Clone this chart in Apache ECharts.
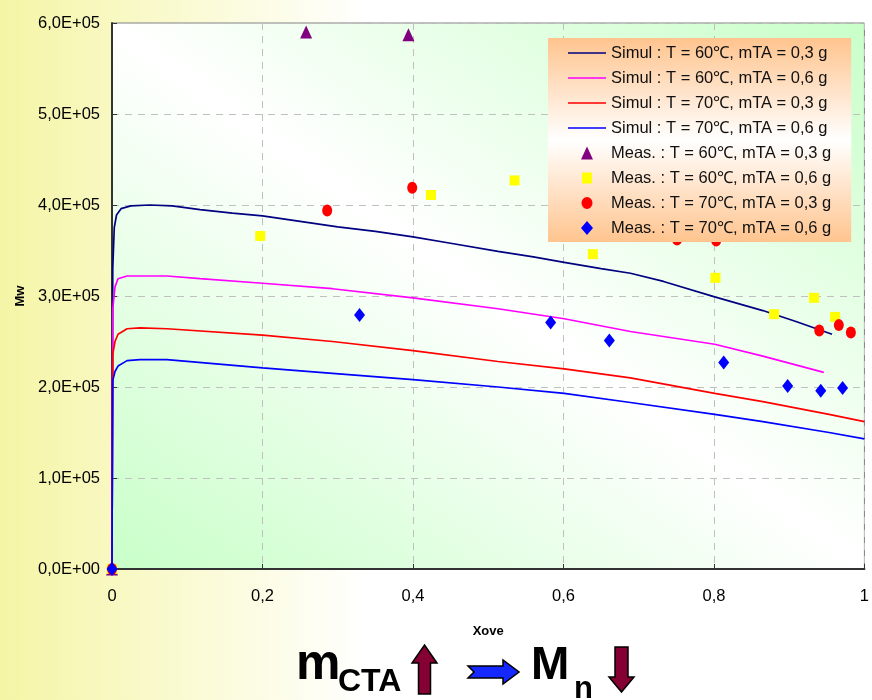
<!DOCTYPE html>
<html>
<head>
<meta charset="utf-8">
<script src="https://cdn.jsdelivr.net/npm/echarts@6/dist/echarts.min.js"></script>
<style>
html,body{margin:0;padding:0;background:#fff;}
#chart{width:872px;height:700px;}
</style>
</head>
<body>
<div id="chart"></div>
<script>
// ---- data ----
const xTickLabels = ['0', '0,2', '0,4', '0,6', '0,8', '1'];
const yTickLabels = ['0,0E+00', '1,0E+05', '2,0E+05', '3,0E+05', '4,0E+05', '5,0E+05', '6,0E+05'];

const seriesNames = [
  'Simul : T = 60\u2103, mTA = 0,3 g',
  'Simul : T = 60\u2103, mTA = 0,6 g',
  'Simul : T = 70\u2103, mTA = 0,3 g',
  'Simul : T = 70\u2103, mTA = 0,6 g',
  'Meas. : T = 60\u2103, mTA = 0,3 g',
  'Meas. : T = 60\u2103, mTA = 0,6 g',
  'Meas. : T = 70\u2103, mTA = 0,3 g',
  'Meas. : T = 70\u2103, mTA = 0,6 g'
];

const simul60_03 = [[0,0],[0.0005,1.35e5],[0.001,3.3e5],[0.003,3.75e5],[0.006,3.89e5],[0.012,3.96e5],[0.025,3.99e5],[0.05,4.0e5],[0.08,3.99e5],[0.117,3.95e5],[0.16,3.91e5],[0.2,3.88e5],[0.25,3.82e5],[0.3,3.76e5],[0.35,3.71e5],[0.4,3.65e5],[0.45,3.58e5],[0.513,3.49e5],[0.56,3.43e5],[0.601,3.37e5],[0.65,3.3e5],[0.689,3.25e5],[0.733,3.16e5],[0.801,2.99e5],[0.865,2.84e5],[0.909,2.72e5],[0.957,2.58e5]];
const simul60_06 = [[0,0],[0.0005,1.6e5],[0.001,2.86e5],[0.004,3.1e5],[0.008,3.19e5],[0.02,3.22e5],[0.073,3.22e5],[0.117,3.19e5],[0.2,3.14e5],[0.293,3.08e5],[0.4,2.98e5],[0.513,2.86e5],[0.601,2.75e5],[0.689,2.61e5],[0.801,2.47e5],[0.865,2.34e5],[0.946,2.16e5]];
const simul70_03 = [[0,0],[0.0005,1.4e5],[0.001,2.36e5],[0.004,2.5e5],[0.008,2.58e5],[0.02,2.64e5],[0.037,2.65e5],[0.073,2.64e5],[0.2,2.57e5],[0.293,2.50e5],[0.4,2.40e5],[0.513,2.28e5],[0.601,2.20e5],[0.689,2.10e5],[0.801,1.93e5],[0.865,1.84e5],[0.953,1.70e5],[1.0,1.62e5]];
const simul70_06 = [[0,0],[0.0005,1.3e5],[0.001,2.07e5],[0.004,2.17e5],[0.008,2.23e5],[0.02,2.29e5],[0.037,2.30e5],[0.073,2.30e5],[0.2,2.21e5],[0.293,2.15e5],[0.4,2.08e5],[0.513,2.0e5],[0.601,1.93e5],[0.689,1.83e5],[0.801,1.70e5],[0.865,1.62e5],[0.953,1.50e5],[1.0,1.43e5]];

const meas60_03 = [[0,0],[0.258,5.90e5],[0.394,5.87e5]];
const meas60_06 = [[0,0],[0.197,3.66e5],[0.424,4.11e5],[0.535,4.27e5],[0.639,3.46e5],[0.802,3.20e5],[0.880,2.80e5],[0.933,2.98e5],[0.961,2.77e5]];
const meas70_03 = [[0,0],[0.286,3.94e5],[0.399,4.19e5],[0.751,3.62e5],[0.803,3.61e5],[0.940,2.62e5],[0.966,2.68e5],[0.982,2.60e5]];
const meas70_06 = [[0,0],[0.329,2.79e5],[0.583,2.71e5],[0.661,2.51e5],[0.813,2.27e5],[0.898,2.01e5],[0.942,1.96e5],[0.971,1.99e5]];

// ---- chart ----
const FONT = '"Liberation Sans", Arial, sans-serif';
const chart = echarts.init(document.getElementById('chart'), null, {renderer: 'canvas'});

const lineColors = ['#000080', '#FF00FF', '#FF0000', '#0000FF'];
const simData = [simul60_03, simul60_06, simul70_03, simul70_06];
const measData = [meas60_03, meas60_06, meas70_03, meas70_06];
const measSymbols = ['triangle', 'rect', 'circle', 'diamond'];
const measSizes = [[12, 13], [10, 10], [10, 12], [11, 14]];
const measColors = ['#800080', '#FFFF00', '#FF0000', '#0000FF'];

// legend icons drawn inside a 38x14 box (corner anchors keep the box size)
const ANCH = 'M0,0 L0.001,0.001 M38,14 L37.999,13.999 ';
const legendIcons = [
  'path://' + ANCH + 'M0,6.2 L38,6.2 L38,7.8 L0,7.8 Z',
  'path://' + ANCH + 'M0,6.2 L38,6.2 L38,7.8 L0,7.8 Z',
  'path://' + ANCH + 'M0,6.2 L38,6.2 L38,7.8 L0,7.8 Z',
  'path://' + ANCH + 'M0,6.2 L38,6.2 L38,7.8 L0,7.8 Z',
  'path://' + ANCH + 'M13,13.5 L19,0.5 L25,13.5 Z',
  'path://' + ANCH + 'M14,1.5 L24,1.5 L24,12.5 L14,12.5 Z',
  'path://' + ANCH + 'M19,1 A5.5,6 0 1,1 19,13 A5.5,6 0 1,1 19,1 Z',
  'path://' + ANCH + 'M19,0 L25,7 L19,14 L13,7 Z'
];

const series = [];
simData.forEach((d, i) => {
  series.push({
    name: seriesNames[i], type: 'line', data: d, symbol: 'none', smooth: false,
    lineStyle: {color: lineColors[i], width: 1.7}, itemStyle: {color: lineColors[i]},
    z: 2, animation: false
  });
});
measData.forEach((d, i) => {
  series.push({
    name: seriesNames[4 + i], type: 'scatter', data: d, symbol: measSymbols[i],
    symbolSize: measSizes[i], itemStyle: {color: measColors[i], opacity: 1},
    z: 3, animation: false
  });
});

const option = {
  animation: false,
  backgroundColor: {
    type: 'linear', x: 0, y: 0, x2: 1, y2: 0,
    colorStops: [{offset: 0, color: '#F5F5A6'}, {offset: 0.42, color: '#FFFFFF'}, {offset: 1, color: '#FFFFFF'}]
  },
  grid: {
    left: 112, top: 23, width: 758, height: 546, show: true,
    borderColor: '#808080', borderWidth: 1,
    backgroundColor: {
      // diagonal gradient whose iso-lines run parallel to the top-left/bottom-right diagonal
      type: 'linear', x: 0, y: 1, x2: 0.683, y2: -0.317,
      colorStops: [{offset: 0, color: '#C8FFC8'}, {offset: 0.5, color: '#FFFFFF'}, {offset: 1, color: '#C8FFC8'}]
    }
  },
  xAxis: {
    type: 'value', min: 0, max: 1, interval: 0.2,
    name: 'Xove', nameLocation: 'middle', nameGap: 56,
    nameTextStyle: {fontFamily: FONT, fontWeight: 'bold', fontSize: 13, color: '#000'},
    axisLine: {show: true, onZero: false, lineStyle: {color: '#333', width: 2}},
    axisTick: {show: true, inside: true, length: 5, lineStyle: {color: '#333'}},
    axisLabel: {margin: 19, fontFamily: FONT, fontSize: 16.5, color: '#000',
      formatter: v => xTickLabels[Math.round(v / 0.2)]},
    splitLine: {show: true, lineStyle: {color: '#C0C0C0', type: [7, 6], width: 1}}
  },
  yAxis: {
    type: 'value', min: 0, max: 6e5, interval: 1e5,
    name: 'Mw', nameLocation: 'middle', nameGap: 77,
    nameTextStyle: {fontFamily: FONT, fontWeight: 'bold', fontSize: 13, color: '#000'},
    axisLine: {show: true, onZero: false, lineStyle: {color: '#333', width: 2}},
    axisTick: {show: true, inside: true, length: 5, lineStyle: {color: '#333'}},
    axisLabel: {margin: 12, fontFamily: FONT, fontSize: 16.5, color: '#000',
      formatter: v => yTickLabels[Math.round(v / 1e5)]},
    splitLine: {show: true, lineStyle: {color: '#C0C0C0', type: [7, 6], width: 1}}
  },
  legend: {
    orient: 'vertical', left: 548, top: 38,
    padding: [6, 20, 5, 20], itemGap: 7, itemWidth: 38, itemHeight: 14,
    data: seriesNames.map((n, i) => ({name: n, icon: legendIcons[i]})),
    backgroundColor: {
      type: 'linear', x: 0, y: 0, x2: 0, y2: 1,
      colorStops: [{offset: 0, color: '#FFC48E'}, {offset: 0.5, color: '#FFFFFF'}, {offset: 1, color: '#FFC48E'}]
    },
    textStyle: {fontFamily: FONT, fontSize: 16.5, color: '#111', lineHeight: 18},
    selectedMode: false, z: 10
  },
  graphic: [
    {type: 'text', z: 100, style: {text: 'm', x: 296, y: 665, font: 'bold 50px ' + FONT, fill: '#000', textVerticalAlign: 'middle', verticalAlign: 'middle'}},
    {type: 'text', z: 100, style: {text: 'CTA', x: 338, y: 682, font: 'bold 32px ' + FONT, fill: '#000', textVerticalAlign: 'middle', verticalAlign: 'middle'}},
    {type: 'polygon', z: 100, shape: {points: [[424.5, 645], [437, 663], [430.5, 663], [430.5, 694], [418.5, 694], [418.5, 663], [412, 663]]},
      style: {fill: '#850033', stroke: '#000', lineWidth: 1.5}},
    {type: 'polygon', z: 100, shape: {points: [[468, 666], [503, 666], [503, 660], [519, 672], [503, 684], [503, 678], [468, 678], [474, 672]]},
      style: {fill: '#1428FF', stroke: '#000', lineWidth: 1.5}},
    {type: 'text', z: 100, style: {text: 'M', x: 531, y: 666, font: 'bold 46px ' + FONT, fill: '#000', textVerticalAlign: 'middle', verticalAlign: 'middle'}},
    {type: 'text', z: 100, style: {text: 'n', x: 574, y: 689, font: 'bold 31px ' + FONT, fill: '#000', textVerticalAlign: 'middle', verticalAlign: 'middle'}},
    {type: 'polygon', z: 100, shape: {points: [[615, 647], [628, 647], [628, 677], [634, 677], [621.5, 692], [609, 677], [615, 677]]},
      style: {fill: '#850033', stroke: '#000', lineWidth: 1.5}}
  ],
  series: series
};
chart.setOption(option);
</script>
</body>
</html>
